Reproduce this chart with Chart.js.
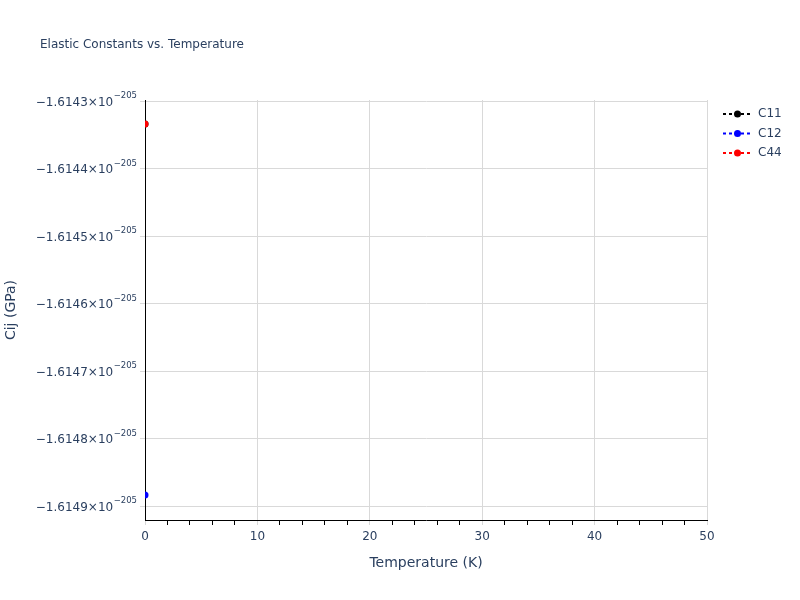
<!DOCTYPE html>
<html>
<head>
<meta charset="utf-8">
<script src="https://cdn.jsdelivr.net/npm/chart.js@4.4.1/dist/chart.umd.min.js"></script>
<style>
  body { margin: 0; background: #fff; }
</style>
</head>
<body>
<canvas id="chart" width="800" height="600"></canvas>
<script>
// values are mantissas, the real numbers are value x 10^EXPONENT GPa
const EXPONENT = -205;
const temperatures = [0];
const c11 = [-1.6143334];
const c12 = [-1.6148834];
const c44 = [-1.6143334];
const yTicks = [-1.6143, -1.6144, -1.6145, -1.6146, -1.6147, -1.6148, -1.6149];
const yMin = -1.6149205;
const yMax = -1.6142978;

const textColor = '#2a3f5f';
const gridColor = '#d9d9d9';
const fontFamily = '"DejaVu Sans", Verdana, sans-serif';

function pts(vals) {
    return temperatures.map((t, i) => ({ x: t, y: vals[i] }));
}

function series(label, vals, color, order) {
    return {
        label: label,
        data: pts(vals),
        borderColor: color,
        backgroundColor: color,
        borderDash: [3, 3],
        borderWidth: 2,
        pointRadius: 3.5,
        pointBorderWidth: 0,
        showLine: true,
        clip: 0,
        order: order
    };
}

function supLabel(v) {
    return '\u2212' + Math.abs(v).toFixed(4) + '\u00d710';
}

// title, legend and y tick labels with superscript exponent
const extras = {
    id: 'extras',
    afterDraw(chart) {
        const ctx = chart.ctx;
        ctx.save();
        ctx.fillStyle = textColor;
        ctx.font = '12px ' + fontFamily;
        ctx.textAlign = 'left';
        ctx.textBaseline = 'middle';
        ctx.fillText('Elastic Constants vs. Temperature', 40, 45);

        const y = chart.scales.y;
        const expText = '\u2212' + Math.abs(EXPONENT);
        yTicks.forEach(v => {
            const py = y.getPixelForValue(v);
            ctx.textBaseline = 'alphabetic';
            ctx.font = '8.5px ' + fontFamily;
            const ew = ctx.measureText(expText).width;
            ctx.textAlign = 'right';
            ctx.fillText(expText, 137, py - 3);
            ctx.font = '12px ' + fontFamily;
            ctx.fillText(supLabel(v), 137 - ew - 0.5, py + 4.5);
        });

        chart.data.datasets.forEach((ds, i) => {
            const ly = 114 + 19.5 * i;
            ctx.strokeStyle = ds.borderColor;
            ctx.lineWidth = 2;
            ctx.setLineDash([3, 3]);
            ctx.beginPath();
            ctx.moveTo(723, ly);
            ctx.lineTo(752, ly);
            ctx.stroke();
            ctx.setLineDash([]);
            ctx.fillStyle = ds.borderColor;
            ctx.beginPath();
            ctx.arc(737.5, ly, 3.5, 0, Math.PI * 2);
            ctx.fill();
            ctx.fillStyle = textColor;
            ctx.font = '12px ' + fontFamily;
            ctx.textAlign = 'left';
            ctx.textBaseline = 'middle';
            ctx.fillText(ds.label, 758, ly);
        });
        ctx.restore();
    }
};

new Chart(document.getElementById('chart').getContext('2d'), {
    type: 'line',
    data: {
        datasets: [
            series('C11', c11, '#000000', 2),
            series('C12', c12, '#0000ff', 1),
            series('C44', c44, '#ff0000', 0)
        ]
    },
    options: {
        responsive: false,
        animation: false,
        layout: { padding: { top: 100, right: 93, bottom: 28, left: 0 } },
        plugins: {
            legend: { display: false },
            tooltip: { enabled: false }
        },
        scales: {
            x: {
                type: 'linear',
                min: 0,
                max: 50,
                afterFit(scale) { scale.height = 52; },
                ticks: {
                    stepSize: 2,
                    autoSkip: false,
                    maxRotation: 0,
                    padding: 5,
                    color: textColor,
                    font: { family: fontFamily, size: 12 },
                    callback: v => (v % 10 === 0 ? v : '')
                },
                grid: {
                    color: c => (c.tick && c.tick.value % 10 === 0 ? gridColor : 'rgba(0,0,0,0)'),
                    tickColor: c => (c.tick && c.tick.value % 10 === 0 ? gridColor : '#000'),
                    tickLength: 5
                },
                border: { color: '#000', width: 1 },
                title: {
                    display: true,
                    text: 'Temperature (K)',
                    color: textColor,
                    font: { family: fontFamily, size: 14 },
                    padding: { top: 0, bottom: 0 }
                }
            },
            y: {
                type: 'linear',
                min: yMin,
                max: yMax,
                afterFit(scale) { scale.width = 145; },
                afterBuildTicks(scale) { scale.ticks = yTicks.map(v => ({ value: v })); },
                ticks: {
                    callback: () => ''
                },
                grid: {
                    color: gridColor,
                    tickColor: gridColor,
                    tickLength: 5
                },
                border: { color: '#000', width: 1 },
                title: {
                    display: true,
                    text: 'Cij (GPa)',
                    color: textColor,
                    font: { family: fontFamily, size: 14 },
                    padding: { top: 3, bottom: 0 }
                }
            }
        }
    },
    plugins: [extras]
});
</script>
</body>
</html>
